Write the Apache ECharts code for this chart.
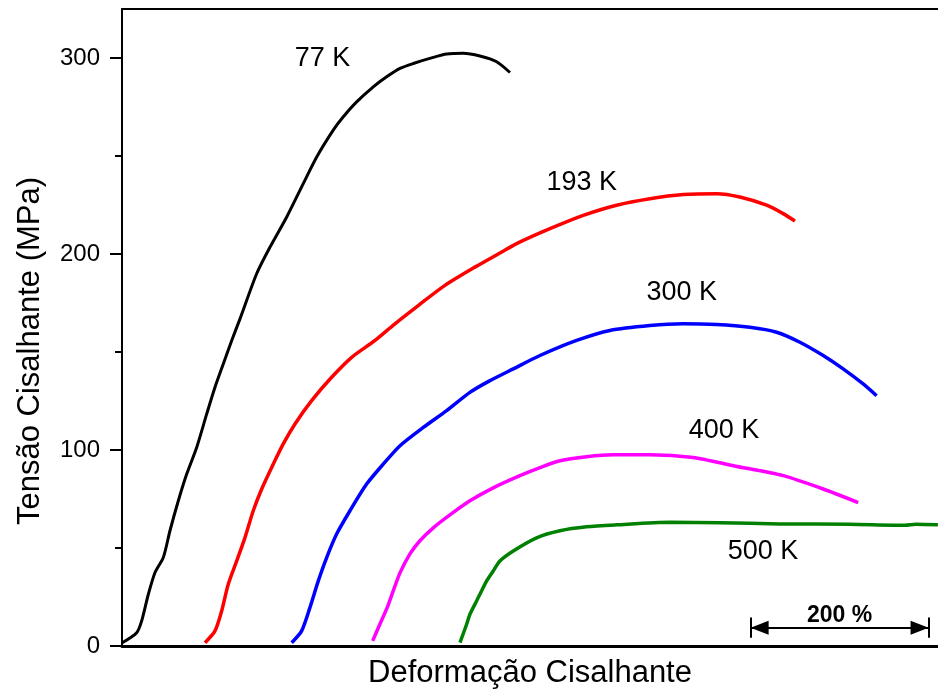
<!DOCTYPE html>
<html><head><meta charset="utf-8">
<script src="https://cdn.jsdelivr.net/npm/echarts@6/dist/echarts.min.js"></script>
<style>html,body{margin:0;padding:0;background:#fff}#c{width:938px;height:690px}</style>
</head><body><div id="c"></div>
<script>
// ---- data (strain in %, curves shifted along x as in the original figure; stress in MPa)
const seriesNames = ['77 K', '193 K', '300 K', '400 K', '500 K'];

const strain77 = [0.3,16.5,22.1,29.6,37.1,46.4,53.9,63.3,72.7,83.9,95.2,104.5,113.8,123.3,132.6,151.3,166.3,185.1,203.7,218.8,237.4,248.7,263.7,282.4,297.4,312.4,327.3,349.8,364.8,383.5,402.2,421.0,436.0];
const stress77 = [1.7,6.8,12.8,26.4,37.5,45.1,58.8,74.1,87.7,101.3,118.4,132.0,143.9,155.9,166.9,189.9,203.5,218.9,235.9,249.5,263.2,270.0,277.6,285.3,290.4,294.7,297.2,300.3,302.0,302.4,301.0,298.1,292.6];

const strain193 = [93.3,104.5,112.0,119.4,128.9,138.2,147.5,157.0,168.2,181.2,194.4,213.1,235.6,258.1,284.3,306.7,332.9,362.9,396.6,426.6,443.5,480.9,518.3,555.8,593.3,630.7,668.2,694.4,724.4,743.0,756.2];
const stress193 = [1.7,7.7,17.9,31.5,43.4,55.3,69.0,80.1,91.1,103.1,113.3,125.2,137.1,147.3,155.9,164.4,173.7,184.0,193.3,201.0,205.3,212.9,219.7,224.9,228.2,230.3,230.8,229.1,224.9,220.6,216.8];

const strain300 = [190.7,201.9,211.2,220.6,230.0,241.2,256.2,274.9,293.6,312.4,338.5,364.8,391.0,413.5,439.7,469.7,510.9,548.3,593.3,630.7,668.2,705.6,735.6,761.8,788.0,810.4,832.9,848.0];
const stress300 = [1.7,7.7,19.6,33.2,45.1,57.1,69.0,82.6,92.8,102.2,111.5,120.1,129.4,135.4,141.4,148.2,155.9,161.0,163.5,164.4,164.0,162.6,160.1,155.0,148.2,141.4,133.7,127.7];

const strain400 = [281.7,289.9,297.4,304.8,312.4,323.6,334.8,349.8,368.5,391.0,417.2,447.2,469.7,492.1,522.1,552.0,593.3,642.0,686.9,743.0,788.0,827.3];
const stress400 = [2.6,11.2,18.9,28.1,37.3,47.0,53.7,60.3,66.9,74.1,80.7,86.9,91.0,94.5,96.6,97.6,97.6,96.2,92.0,86.9,80.1,73.2];

const strain500 = [379.8,387.3,391.0,398.5,402.2,409.8,417.2,424.7,439.7,465.9,492.1,522.1,555.8,615.7,671.9,739.3,818.0,879.8,892.1,916.9];
const stress500 = [1.7,11.1,16.2,23.0,26.4,33.2,38.3,43.4,48.5,55.2,58.8,60.8,61.8,63.1,62.9,62.3,62.1,61.6,62.1,61.8];

// curve labels (data coordinates)
const labelStrain = [225.3, 516.6, 629.0, 676.5, 720.3];
const labelStress = [299.8, 236.7, 180.5, 109.9, 48.0];

// y axis ticks
const yMajorTicks = [0, 100, 200, 300];
const yMinorTicks = [50, 150, 250];

// 200 % scale bar
const scaleBarStart = 706.4;
const scaleBarLength = 200;
const scaleBarText = '200 %';
const scaleBarStress = 9.35;
const scaleBarCapLow = 4.2;
const scaleBarCapHigh = 14.5;

// ---- chart
const FONT = "'Liberation Sans', Arial, Helvetica, sans-serif";
const colors = ['#000000', '#ff0000', '#0000ff', '#ff00ff', '#008000'];
const xs = [strain77, strain193, strain300, strain400, strain500];
const ys = [stress77, stress193, stress300, stress400, stress500];

const curveSeries = seriesNames.map((n, i) => ({
  name: n,
  type: 'line',
  data: xs[i].map((x, j) => [x, ys[i][j]]),
  showSymbol: false,
  smooth: 0.25,
  lineStyle: { color: colors[i], width: i === 0 ? 3 : 3.5 },
  itemStyle: { color: colors[i] },
  animation: false,
  z: 3
}));

const barEnd = scaleBarStart + scaleBarLength;

const option = {
  animation: false,
  backgroundColor: '#ffffff',
  grid: { left: 122, right: 0, top: 9, bottom: 44, containLabel: false, outerBoundsMode: 'none' },
  xAxis: [
    {
      type: 'value', min: 0, max: 917, position: 'bottom',
      axisLine: { show: true, onZero: false, lineStyle: { color: '#000', width: 3 } },
      axisTick: { show: false }, axisLabel: { show: false }, splitLine: { show: false },
      name: 'Deformação Cisalhante', nameLocation: 'middle', nameGap: 12,
      nameTextStyle: { fontFamily: FONT, fontSize: 31, color: '#000' }
    },
    {
      type: 'value', min: 0, max: 917, position: 'top',
      axisLine: { show: true, onZero: false, lineStyle: { color: '#000', width: 2 } },
      axisTick: { show: false }, axisLabel: { show: false }, splitLine: { show: false }
    }
  ],
  yAxis: [
    {
      type: 'value', min: 0, max: 325, position: 'left',
      axisLine: { show: true, onZero: false, lineStyle: { color: '#000', width: 2 } },
      axisTick: { show: true, inside: false, length: 12, lineStyle: { color: '#000', width: 2 }, customValues: yMajorTicks },
      axisLabel: { show: true, customValues: yMajorTicks, margin: 22, fontFamily: FONT, fontSize: 24, color: '#000' },
      splitLine: { show: false }
    },
    {
      type: 'value', min: 0, max: 325, position: 'left',
      axisLine: { show: false },
      axisTick: { show: true, inside: false, length: 7, lineStyle: { color: '#000', width: 2 }, customValues: yMinorTicks },
      axisLabel: { show: false }, splitLine: { show: false }
    }
  ],
  graphic: [
    {
      type: 'text', x: 30, y: 351, rotation: Math.PI / 2,
      style: { text: 'Tensão Cisalhante (MPa)', font: '31px ' + FONT, fill: '#000', textAlign: 'center', textVerticalAlign: 'middle' }
    }
  ],
  series: curveSeries.concat([
    {
      name: 'labels', type: 'scatter', silent: true,
      data: labelStrain.map((x, i) => [x, labelStress[i]]),
      symbol: 'circle', symbolSize: 1,
      itemStyle: { color: 'rgba(0,0,0,0)', opacity: 1 },
      label: {
        show: true, position: 'inside', opacity: 1,
        formatter: p => seriesNames[p.dataIndex],
        fontFamily: FONT, fontSize: 27, color: '#000', textBorderWidth: 0
      },
      z: 4
    },
    {
      name: 'scalebar', type: 'line', data: [], color: '#000',
      markLine: {
        silent: true, animation: false,
        symbol: ['triangle', 'triangle'], symbolSize: [14, 18],
        lineStyle: { color: '#000', width: 2, type: 'solid' },
        label: { show: false },
        data: [
          [
            { coord: [scaleBarStart, scaleBarStress], symbolOffset: [0, 9],
              label: { show: true, position: 'middle', formatter: scaleBarText, fontFamily: FONT, fontWeight: 'bold', fontSize: 23, color: '#000', distance: 1 } },
            { coord: [barEnd, scaleBarStress], symbolOffset: [0, 9] }
          ],
          [ { coord: [scaleBarStart, scaleBarCapLow], symbol: 'none' }, { coord: [scaleBarStart, scaleBarCapHigh], symbol: 'none' } ],
          [ { coord: [barEnd, scaleBarCapLow], symbol: 'none' }, { coord: [barEnd, scaleBarCapHigh], symbol: 'none' } ]
        ]
      }
    }
  ])
};

const chart = echarts.init(document.getElementById('c'), null, { renderer: 'canvas' });
chart.setOption(option);
</script>
</body></html>
